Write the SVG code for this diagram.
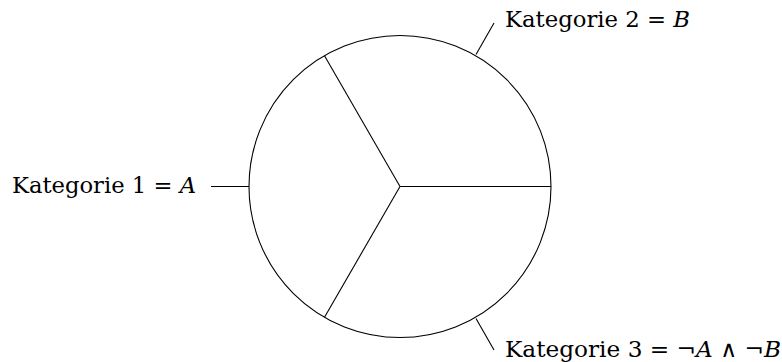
<svg xmlns="http://www.w3.org/2000/svg" width="782" height="362" viewBox="0 0 782 362">
<style>
.ln{fill:none;stroke:#000;stroke-width:1.1}
text{font-family:'DejaVu Serif',serif;font-size:22.8px;fill:#000}
.m{font-style:italic}
</style>
<rect width="782" height="362" fill="#fff"/>
<g id="pie">
<circle class="ln" cx="400" cy="186.5" r="151"/>
</g>
<g id="connectors">
<line class="ln" x1="400" y1="186.5" x2="551" y2="186.5"/>
<line class="ln" x1="400" y1="186.5" x2="324.5" y2="55.7"/>
<line class="ln" x1="400" y1="186.5" x2="324.5" y2="317.3"/>
<line class="ln" x1="211" y1="186.5" x2="249" y2="186.5"/>
<line class="ln" x1="476" y1="54.5" x2="494" y2="23"/>
<line class="ln" x1="476" y1="318.5" x2="494" y2="350"/>
</g>
<g id="label1">
<text x="12" y="193" textLength="184" lengthAdjust="spacingAndGlyphs">Kategorie 1 = <tspan class="m">A</tspan></text>
</g>
<g id="label2">
<text x="505" y="27" textLength="185" lengthAdjust="spacingAndGlyphs">Kategorie 2 = <tspan class="m">B</tspan></text>
</g>
<g id="label3">
<text x="505" y="357" textLength="276" lengthAdjust="spacingAndGlyphs">Kategorie 3 = ¬<tspan class="m">A</tspan> ∧ ¬<tspan class="m">B</tspan></text>
</g>
</svg>
